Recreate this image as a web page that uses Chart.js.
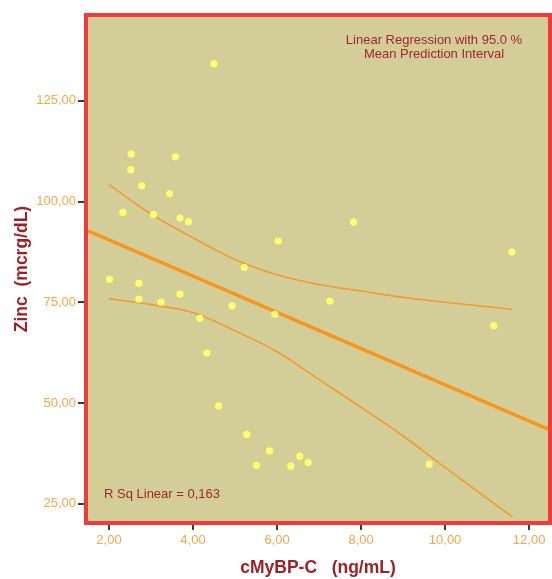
<!DOCTYPE html>
<html>
<head>
<meta charset="utf-8">
<script src="https://cdn.jsdelivr.net/npm/chart.js@4"></script>
<style>
  html, body { margin: 0; padding: 0; background: #ffffff; }
  #wrap { width: 552px; height: 579px; }
</style>
</head>
<body>
<div id="wrap"><canvas id="zincChart" width="552" height="579"></canvas></div>
<script>
// observed values (cMyBP-C ng/mL vs Zinc mcrg/dL)
var cmybpc = [4.50, 2.53, 2.52, 3.58, 2.78, 3.44, 2.33, 3.06, 3.69, 3.89, 6.03, 5.22, 2.01, 2.71, 7.82, 11.59,
              2.71, 3.24, 3.69, 4.93, 4.16, 5.95, 4.33, 4.61, 5.28, 5.82, 5.51, 7.26, 11.16, 6.54, 6.33, 6.74, 9.62];
var zinc   = [134.2, 111.8, 107.9, 111.1, 103.9, 101.9, 97.3, 96.8, 95.9, 95.0, 90.2, 83.6, 80.7, 79.7, 94.9, 87.5,
              75.8, 75.0, 77.0, 74.1, 71.0, 72.0, 62.4, 49.3, 42.2, 38.1, 34.5, 75.3, 69.2, 36.8, 34.3, 35.2, 34.8];

// fit line, read at the plot edges
var fitX = [1.5, 12.45];
var fitY = [92.7, 43.5];

// 95% mean prediction interval
var bandX     = [2, 3, 4, 5, 6, 7, 8, 9, 10, 11, 11.6];
var bandUpper = [104.2, 96.9, 91.0, 85.6, 81.8, 79.4, 77.8, 76.2, 75.0, 73.9, 73.2];
var bandLower = [75.9, 74.4, 72.4, 67.9, 62.7, 55.8, 48.9, 41.8, 34.0, 26.3, 21.7];

var xTicks = [2, 4, 6, 8, 10, 12];
var yTicks = [25, 50, 75, 100, 125];

var FONT = "'Liberation Sans', Arial, sans-serif";

function pairs(xs, ys) {
    return xs.map(function (x, i) { return { x: x, y: ys[i] }; });
}
function fmt(v) { return v.toFixed(2).replace('.', ','); }

var frame = {
    id: 'frame',
    beforeDraw: function (chart) {
        var a = chart.chartArea, c = chart.ctx;
        c.save();
        c.fillStyle = '#d3ce98';
        c.fillRect(a.left, a.top, a.right - a.left, a.bottom - a.top);
        c.restore();
    },
    afterDraw: function (chart) {
        var a = chart.chartArea, c = chart.ctx;
        c.save();
        // red frame
        c.strokeStyle = '#f03a3e';
        c.lineWidth = 4;
        c.strokeRect(a.left - 2, a.top - 2, a.right - a.left + 4, a.bottom - a.top + 4);

        // annotations
        c.fillStyle = '#a3262a';
        c.font = '13px ' + FONT;
        c.textAlign = 'center';
        c.textBaseline = 'middle';
        c.fillText('Linear Regression with 95.0 %', 434, 40);
        c.fillText('Mean Prediction Interval', 434, 54);
        c.textAlign = 'left';
        c.fillText('R Sq Linear = 0,163', 104, 494);

        // axis titles
        c.fillStyle = '#9e1f24';
        c.font = 'bold 17.5px ' + FONT;
        c.textAlign = 'center';
        c.fillText('cMyBP-C   (ng/mL)', (a.left + a.right) / 2, 568);
        c.translate(22, (a.top + a.bottom) / 2);
        c.rotate(-Math.PI / 2);
        c.fillText('Zinc  (mcrg/dL)', 0, 0);
        c.restore();
    }
};

new Chart(document.getElementById('zincChart'), {
    type: 'scatter',
    data: {
        datasets: [
            {
                data: pairs(cmybpc, zinc),
                backgroundColor: '#ffff6e',
                borderWidth: 0,
                pointRadius: 3.6
            },
            {
                data: pairs(fitX, fitY),
                showLine: true,
                borderColor: '#f7951c',
                borderWidth: 3.5,
                pointRadius: 0
            },
            {
                data: pairs(bandX, bandUpper),
                showLine: true,
                borderColor: '#f59a2c',
                borderWidth: 1.6,
                pointRadius: 0,
                tension: 0.4
            },
            {
                data: pairs(bandX, bandLower),
                showLine: true,
                borderColor: '#f59a2c',
                borderWidth: 1.6,
                pointRadius: 0,
                tension: 0.4
            }
        ]
    },
    options: {
        responsive: false,
        animation: false,
        events: [],
        layout: { padding: { left: 0, top: 17, right: 3, bottom: 0 } },
        plugins: { legend: { display: false }, tooltip: { enabled: false } },
        scales: {
            x: {
                min: 1.5,
                max: 12.45,
                afterBuildTicks: function (s) { s.ticks = xTicks.map(function (v) { return { value: v }; }); },
                afterFit: function (s) { s.height = 58; },
                border: { display: false },
                grid: { drawOnChartArea: false, drawTicks: true, tickLength: 9, color: '#3a3a3a', lineWidth: 2 },
                ticks: {
                    color: '#f5a646',
                    font: { family: FONT, size: 13 },
                    padding: 3,
                    maxRotation: 0,
                    callback: function (v) { return fmt(v); }
                }
            },
            y: {
                min: 20.7,
                max: 145.8,
                afterBuildTicks: function (s) { s.ticks = yTicks.map(function (v) { return { value: v }; }); },
                afterFit: function (s) { s.width = 88; },
                border: { display: false },
                grid: { drawOnChartArea: false, drawTicks: true, tickLength: 10, color: '#3a3a3a', lineWidth: 2 },
                ticks: {
                    color: '#f5a646',
                    font: { family: FONT, size: 13 },
                    padding: 2,
                    callback: function (v) { return fmt(v); }
                }
            }
        }
    },
    plugins: [frame]
});
</script>
</body>
</html>
